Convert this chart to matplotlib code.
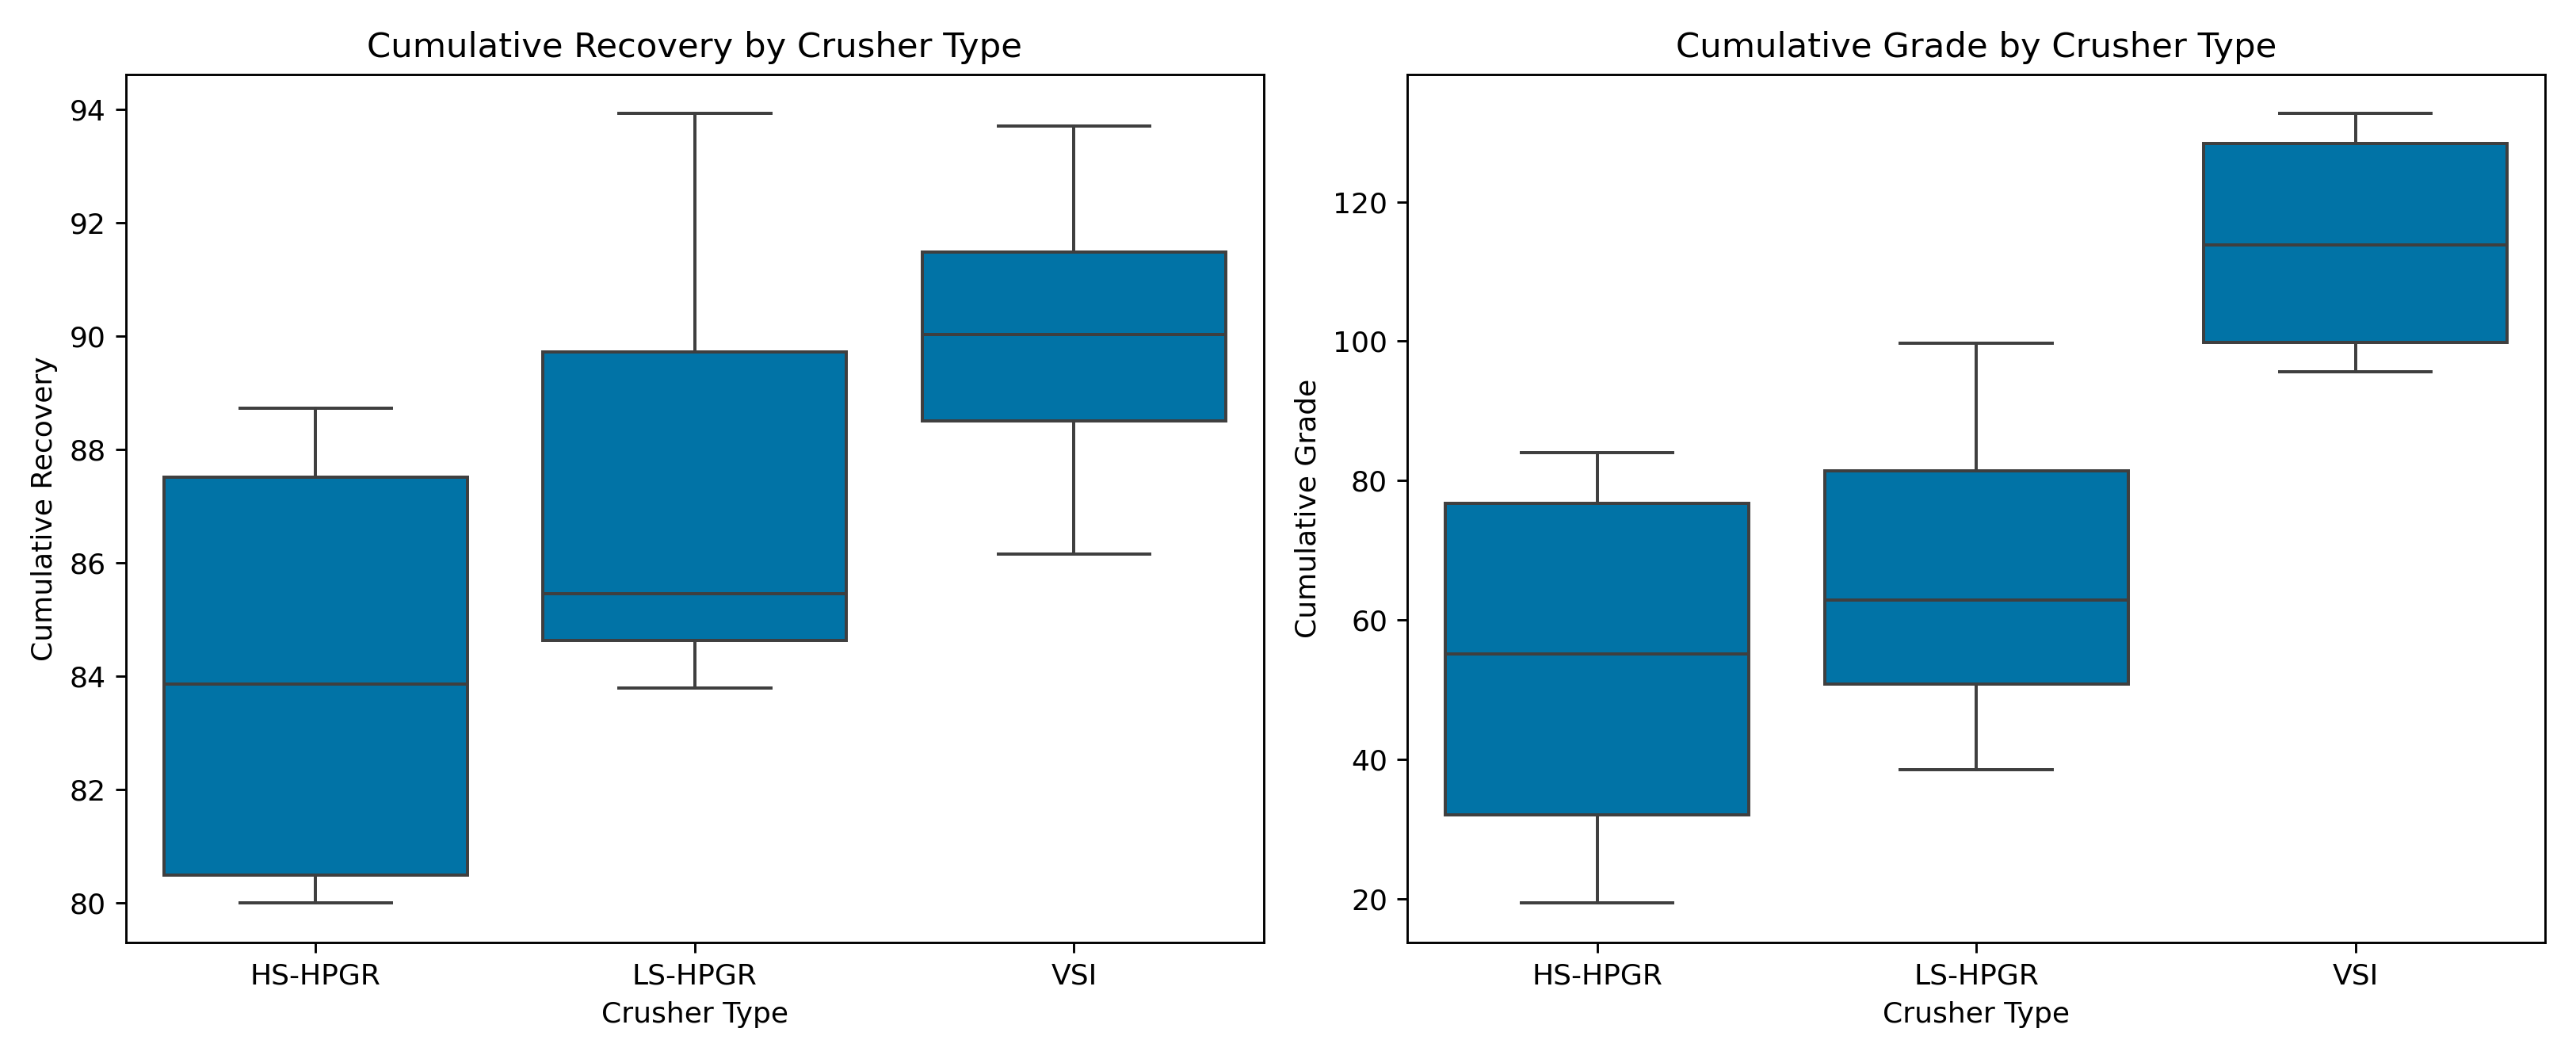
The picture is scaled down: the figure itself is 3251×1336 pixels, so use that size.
import matplotlib
matplotlib.use("Agg")
import matplotlib.pyplot as plt

# crusher types on the x axis
crusher_types = ["HS-HPGR", "LS-HPGR", "VSI"]

# box stats: lower whisker, q1, median, q3, upper whisker
recovery_whislo = [79.99, 83.79, 86.15]
recovery_q1 = [80.49, 84.63, 88.50]
recovery_med = [83.86, 85.45, 90.02]
recovery_q3 = [87.51, 89.71, 91.48]
recovery_whishi = [88.73, 93.92, 93.70]

grade_whislo = [19.35, 38.51, 95.63]
grade_q1 = [32.04, 50.83, 99.81]
grade_med = [55.09, 62.81, 113.85]
grade_q3 = [76.72, 81.39, 128.35]
grade_whishi = [84.0, 99.68, 132.64]

BOX_COLOR = "#0173a6"
LINE_COLOR = "#3f3f3f"
DPI = 260


def make_stats(labels, lo, q1, med, q3, hi):
    stats = []
    for i, lab in enumerate(labels):
        stats.append({
            "label": lab,
            "whislo": lo[i],
            "q1": q1[i],
            "med": med[i],
            "q3": q3[i],
            "whishi": hi[i],
            "fliers": [],
        })
    return stats


def draw_box(ax, stats, title, ylabel):
    ax.bxp(
        stats,
        positions=range(len(stats)),
        widths=0.8,
        patch_artist=True,
        showfliers=False,
        boxprops=dict(facecolor=BOX_COLOR, edgecolor=LINE_COLOR, linewidth=1.1),
        medianprops=dict(color=LINE_COLOR, linewidth=1.1),
        whiskerprops=dict(color=LINE_COLOR, linewidth=1.1),
        capprops=dict(color=LINE_COLOR, linewidth=1.1),
    )
    ax.set_xlim(-0.5, len(stats) - 0.5)
    ax.margins(y=0.05)
    ax.set_title(title)
    ax.set_xlabel("Crusher Type")
    ax.set_ylabel(ylabel)


fig, axes = plt.subplots(1, 2, figsize=(3251 / DPI, 1336 / DPI), dpi=DPI)

rec_stats = make_stats(crusher_types, recovery_whislo, recovery_q1, recovery_med,
                       recovery_q3, recovery_whishi)
grade_stats = make_stats(crusher_types, grade_whislo, grade_q1, grade_med,
                         grade_q3, grade_whishi)

draw_box(axes[0], rec_stats, "Cumulative Recovery by Crusher Type", "Cumulative Recovery")
draw_box(axes[1], grade_stats, "Cumulative Grade by Crusher Type", "Cumulative Grade")

plt.tight_layout()
fig.savefig("out.png", dpi=DPI)
